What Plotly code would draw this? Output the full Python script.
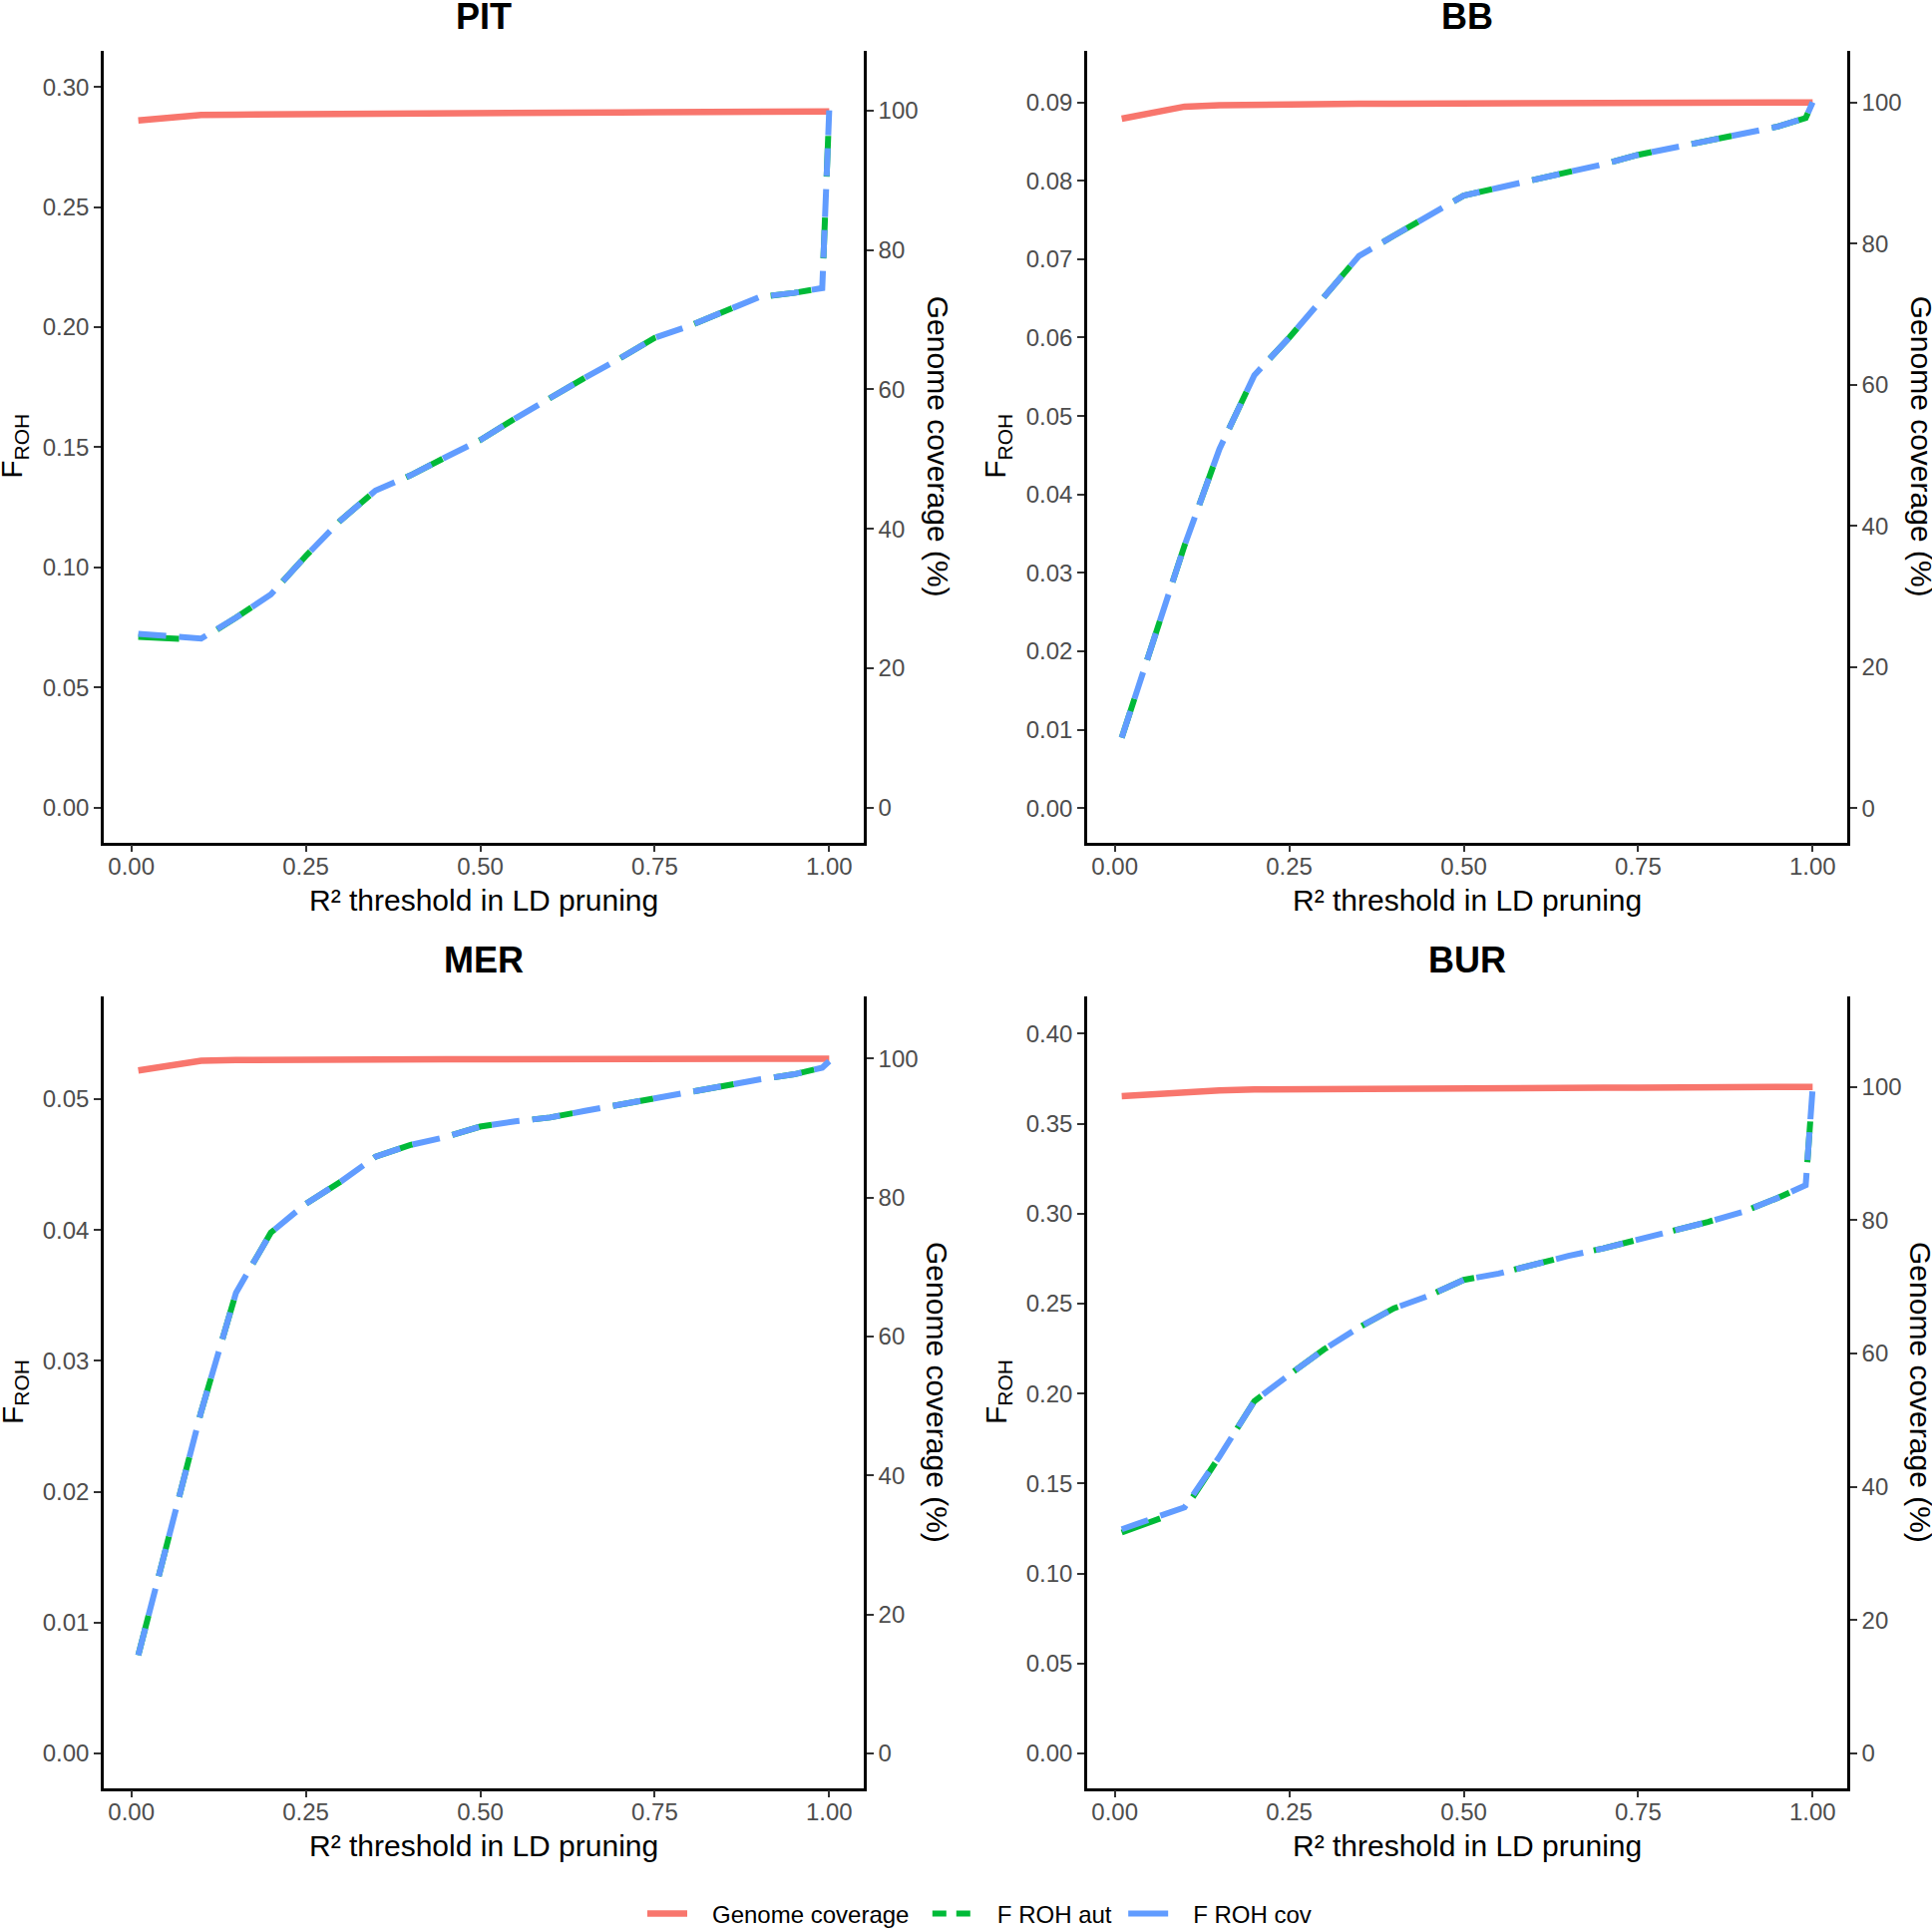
import plotly.graph_objects as go

# ---------------- data ----------------
thresholds = [0.01, 0.1, 0.15, 0.2, 0.25, 0.3, 0.35, 0.4, 0.45, 0.5, 0.55,
              0.6, 0.65, 0.7, 0.75, 0.8, 0.85, 0.9, 0.95, 0.99, 1.0]

pit_cov_pct = [98.6, 99.4, 99.45, 99.5, 99.55, 99.6, 99.62, 99.65, 99.67, 99.7, 99.72,
               99.74, 99.75, 99.77, 99.8, 99.82, 99.84, 99.86, 99.88, 99.9, 99.9]
pit_froh_aut = [0.0710, 0.0698, 0.0790, 0.0887, 0.1047, 0.1196, 0.1320, 0.1383, 0.1458, 0.1530, 0.1620,
                0.1707, 0.1790, 0.1870, 0.1956, 0.2006, 0.2068, 0.2126, 0.2143, 0.2163, 0.2903]
pit_froh_cov = [0.0723, 0.0703, 0.0790, 0.0887, 0.1047, 0.1196, 0.1320, 0.1383, 0.1458, 0.1530, 0.1620,
                0.1707, 0.1790, 0.1870, 0.1956, 0.2006, 0.2068, 0.2126, 0.2143, 0.2163, 0.2903]

bb_cov_pct = [97.7, 99.4, 99.6, 99.7, 99.75, 99.78, 99.8, 99.82, 99.84, 99.85, 99.86,
              99.87, 99.88, 99.89, 99.9, 99.92, 99.94, 99.95, 99.96, 99.98, 100.0]
bb_froh_aut = [0.0090, 0.0335, 0.0458, 0.0552, 0.0600, 0.0652, 0.0704, 0.0730, 0.0755, 0.0781, 0.0791,
               0.0801, 0.0810, 0.0821, 0.0833, 0.0842, 0.0850, 0.0859, 0.0869, 0.0880, 0.0900]
bb_froh_cov = [0.0090, 0.0335, 0.0458, 0.0552, 0.0600, 0.0652, 0.0704, 0.0730, 0.0755, 0.0781, 0.0791,
               0.0801, 0.0810, 0.0821, 0.0833, 0.0842, 0.0850, 0.0859, 0.0869, 0.0880, 0.0900]

mer_cov_pct = [98.3, 99.7, 99.8, 99.85, 99.87, 99.88, 99.89, 99.9, 99.9, 99.9, 99.91,
               99.92, 99.93, 99.94, 99.95, 99.96, 99.97, 99.98, 99.99, 100.0, 100.0]
mer_froh_aut = [0.0075, 0.0261, 0.0352, 0.0398, 0.0420, 0.0437, 0.0456, 0.0465, 0.0471, 0.0479, 0.0483,
                0.0486, 0.0491, 0.0496, 0.0501, 0.0506, 0.0511, 0.0515, 0.0519, 0.0524, 0.0531]
mer_froh_cov = [0.0075, 0.0261, 0.0352, 0.0398, 0.0420, 0.0437, 0.0456, 0.0465, 0.0471, 0.0479, 0.0483,
                0.0486, 0.0491, 0.0496, 0.0501, 0.0506, 0.0511, 0.0515, 0.0519, 0.0524, 0.0529]

bur_cov_pct = [98.6, 99.3, 99.45, 99.6, 99.65, 99.7, 99.72, 99.75, 99.77, 99.8, 99.82,
               99.84, 99.85, 99.87, 99.88, 99.9, 99.92, 99.94, 99.96, 99.98, 100.0]
bur_froh_aut = [0.1228, 0.1355, 0.1650, 0.1958, 0.2105, 0.2246, 0.2368, 0.2474, 0.2544, 0.2632, 0.2667,
                0.2719, 0.2765, 0.2807, 0.2860, 0.2905, 0.2954, 0.3010, 0.3088, 0.3158, 0.3698]
bur_froh_cov = [0.1246, 0.1368, 0.1650, 0.1958, 0.2105, 0.2246, 0.2368, 0.2474, 0.2544, 0.2632, 0.2667,
                0.2719, 0.2765, 0.2807, 0.2860, 0.2905, 0.2954, 0.3010, 0.3088, 0.3158, 0.3698]

panel_names = ["PIT", "BB", "MER", "BUR"]
x_ticks = [0.0, 0.25, 0.5, 0.75, 1.0]
left_tick_steps = [0.05, 0.01, 0.01, 0.05]
left_tick_max = [0.30, 0.09, 0.05, 0.40]
right_ticks = [0, 20, 40, 60, 80, 100]
legend_names = ["Genome coverage", "F ROH aut", "F ROH cov"]

series = [
    (pit_cov_pct, pit_froh_aut, pit_froh_cov),
    (bb_cov_pct, bb_froh_aut, bb_froh_cov),
    (mer_cov_pct, mer_froh_aut, mer_froh_cov),
    (bur_cov_pct, bur_froh_aut, bur_froh_cov),
]

# ---------------- layout geometry (pixels) ----------------
W, H = 1937, 1934
panels_px = [  # x0, x1, y0(top), y1(bottom)
    (104, 866, 51, 844.5),
    (1090, 1852, 51, 844.5),
    (104, 866, 999.4, 1792.6),
    (1090, 1852, 999.4, 1792.6),
]
x_range = [-0.0395, 1.0495]
left_ranges = [[-0.01454, 0.3151], [-0.00434, 0.09655], [-0.00264, 0.05782], [-0.01918, 0.4205]]
right_ranges = [[-5.01, 108.6], [-4.82, 107.3], [-4.97, 108.9], [-5.18, 113.5]]

RED, GREEN, BLUE = "#F8766D", "#00BA38", "#619CFF"
FONT = "Liberation Sans, Arial, Helvetica, sans-serif"
LW_RED = 6.5
LW = 6

fig = go.Figure()
layout = dict(
    width=W, height=H, margin=dict(l=0, r=0, t=0, b=0, autoexpand=False),
    paper_bgcolor="white", plot_bgcolor="white",
    font=dict(family=FONT, size=24, color="#4D4D4D"),
    showlegend=True,
)
annotations = []

axis_common = dict(
    showgrid=False, zeroline=False, showline=True, linecolor="black", linewidth=2.6,
    ticks="outside", ticklen=7, tickwidth=2.4, tickcolor="#333333",
    tickfont=dict(family=FONT, size=24, color="#4D4D4D"), fixedrange=True,
)

for k in range(4):
    i = k + 1
    x0, x1, y0, y1 = panels_px[k]
    xd = [x0 / W, x1 / W]
    yd = [1 - y1 / H, 1 - y0 / H]
    xa = "x" if i == 1 else f"x{i}"
    ra = f"y{2*k+1}" if k > 0 else "y"
    la = f"y{2*k+2}"
    ra_key = "yaxis" if k == 0 else f"yaxis{2*k+1}"
    la_key = f"yaxis{2*k+2}"
    xa_key = "xaxis" if i == 1 else f"xaxis{i}"

    layout[xa_key] = dict(axis_common, domain=xd, range=x_range, anchor=ra,
                          tickvals=x_ticks, tickformat=".2f", ticklabelstandoff=-6)
    layout[ra_key] = dict(axis_common, domain=yd, range=right_ranges[k], anchor=xa,
                          side="right", tickvals=right_ticks)
    n = round(left_tick_max[k] / left_tick_steps[k])
    lt = [round(j * left_tick_steps[k], 4) for j in range(n + 1)]
    layout[la_key] = dict(axis_common, range=left_ranges[k], anchor=xa, overlaying=ra,
                          side="left", tickvals=lt, tickformat=".2f")

    cov, aut, frc = series[k]
    fig.add_trace(go.Scatter(x=thresholds, y=cov, xaxis=xa, yaxis=ra, mode="lines",
                             line=dict(color=RED, width=LW_RED), showlegend=False,
                             name=legend_names[0], hoverinfo="skip"))
    fig.add_trace(go.Scatter(x=thresholds, y=aut, xaxis=xa, yaxis=la, mode="lines",
                             line=dict(color=GREEN, width=LW, dash="41px,41px"), showlegend=False,
                             name=legend_names[1], hoverinfo="skip"))
    fig.add_trace(go.Scatter(x=thresholds, y=frc, xaxis=xa, yaxis=la, mode="lines",
                             line=dict(color=BLUE, width=LW, dash="28px,13px"), showlegend=False,
                             name=legend_names[2], hoverinfo="skip"))

    cx = (x0 + x1) / 2 / W
    title_y = 16 if k < 2 else 962
    annotations.append(dict(text=f"<b>{panel_names[k]}</b>", x=cx, y=1 - title_y / H,
                            xref="paper", yref="paper", showarrow=False, xanchor="center",
                            yanchor="middle", font=dict(family=FONT, size=36, color="black")))
    xt_y = 903 if k < 2 else 1850
    annotations.append(dict(text="R² threshold in LD pruning", x=cx, y=1 - xt_y / H,
                            xref="paper", yref="paper", showarrow=False, xanchor="center",
                            yanchor="middle", font=dict(family=FONT, size=30, color="black")))
    cy = 1 - (y0 + y1) / 2 / H
    lx = 14 if k % 2 == 0 else 1000
    annotations.append(dict(text="F<sub>ROH</sub>", x=lx / W, y=cy, textangle=-90,
                            xref="paper", yref="paper", showarrow=False, xanchor="center",
                            yanchor="middle", font=dict(family=FONT, size=30, color="black")))
    rx = 940 if k % 2 == 0 else 1926
    annotations.append(dict(text="Genome coverage (%)", x=rx / W, y=cy, textangle=90,
                            xref="paper", yref="paper", showarrow=False, xanchor="center",
                            yanchor="middle", font=dict(family=FONT, size=30, color="black")))

# legend-only entries
lead = "\u00a0\u00a0\u00a0"
fig.add_trace(go.Scatter(x=[None], y=[None], mode="lines", name=lead + legend_names[0] + "\u00a0\u00a0",
                         line=dict(color=RED, width=LW_RED), hoverinfo="skip"))
fig.add_trace(go.Scatter(x=[None], y=[None], mode="lines", name=lead + legend_names[1] + "\u00a0",
                         line=dict(color=GREEN, width=LW, dash="14px,10px"), hoverinfo="skip"))
fig.add_trace(go.Scatter(x=[None], y=[None], mode="lines", name=lead + legend_names[2],
                         line=dict(color=BLUE, width=LW), hoverinfo="skip"))

layout["annotations"] = annotations
layout["legend"] = dict(orientation="h", x=982 / W, xanchor="center", y=1 - 1919 / H,
                        yanchor="middle", font=dict(family=FONT, size=24, color="black"),
                        bgcolor="rgba(0,0,0,0)", itemwidth=40, tracegroupgap=0)
fig.update_layout(**layout)

fig.write_html("out.html", config={"displayModeBar": False},
               post_script="document.body.style.margin='0';document.body.style.overflow='hidden';")
